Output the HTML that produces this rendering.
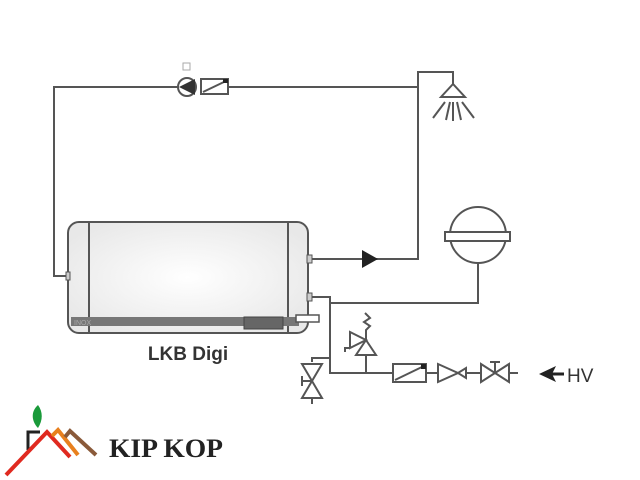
<!DOCTYPE html>
<html><head><style>
html,body{margin:0;padding:0;background:#fff;width:640px;height:480px;overflow:hidden}
</style></head><body>
<svg width="640" height="480" viewBox="0 0 640 480" xmlns="http://www.w3.org/2000/svg" font-family="Liberation Sans, sans-serif">
<defs><radialGradient id="g" cx="50%" cy="50%" r="60%"><stop offset="0" stop-color="#fff"/><stop offset="1" stop-color="#e8e8e8"/></radialGradient></defs>
<g stroke="#555" stroke-width="2" fill="none">
<polyline points="66,276 54,276 54,87 178,87"/>
<line x1="228" y1="87" x2="418" y2="87"/>
<polyline points="418,260 418,72 453,72 453,84"/>
<polyline points="312,259 418,259 418,255"/>
<polyline points="312,297 330,297 330,373 393,373"/>
<polyline points="330,303 478,303 478,263"/>
<line x1="426" y1="373" x2="518" y2="373"/>
<polyline points="330,358 312,358 312,362"/>
<line x1="366" y1="373" x2="366" y2="355"/>
<line x1="312" y1="398" x2="312" y2="404"/>
</g>
<rect x="68" y="222" width="240" height="111" rx="11" fill="url(#g)" stroke="#555" stroke-width="2"/>
<line x1="89" y1="222" x2="89" y2="333" stroke="#555" stroke-width="2"/>
<line x1="288" y1="222" x2="288" y2="333" stroke="#555" stroke-width="2"/>
<rect x="71" y="317" width="228" height="9" fill="#777"/>
<rect x="244" y="317" width="39" height="12" fill="#666" stroke="#444"/>
<rect x="296" y="315" width="23" height="7" fill="#fff" stroke="#555" stroke-width="1.5"/>
<text x="74" y="325" font-size="7" fill="#aaa">INOX</text>
<rect x="66" y="272" width="4" height="8" fill="#ccc" stroke="#555"/>
<rect x="307" y="255" width="5" height="8" fill="#ccc" stroke="#555"/>
<rect x="307" y="293" width="5" height="8" fill="#ccc" stroke="#555"/>
<text x="188" y="360" font-size="19" font-weight="bold" fill="#333" text-anchor="middle">LKB Digi</text>
<circle cx="187" cy="87" r="9" fill="#fff" stroke="#555" stroke-width="2"/>
<polygon points="179,87 195,79 195,95" fill="#333"/>
<rect x="183" y="63" width="7" height="7" fill="none" stroke="#aaa"/>
<rect x="201" y="79" width="27" height="15" fill="#fff" stroke="#555" stroke-width="2"/>
<line x1="203" y1="92" x2="226" y2="81" stroke="#555" stroke-width="2"/>
<rect x="223" y="79" width="5" height="4" fill="#222"/>
<polygon points="453,84 441,97 465,97" fill="#fff" stroke="#555" stroke-width="2"/>
<g stroke="#555" stroke-width="2"><line x1="445" y1="102" x2="433" y2="118"/><line x1="450" y1="102" x2="446" y2="120"/><line x1="453" y1="102" x2="453" y2="121"/><line x1="457" y1="102" x2="461" y2="120"/><line x1="462" y1="102" x2="474" y2="118"/></g>
<polygon points="362,250 378,259 362,268" fill="#222"/>
<circle cx="478" cy="235" r="28" fill="#fff" stroke="#555" stroke-width="2"/>
<rect x="445" y="232" width="65" height="9" fill="#fff" stroke="#555" stroke-width="2"/>
<g stroke="#555" stroke-width="2" fill="#fff">
<polygon points="366,340 356,355 376,355"/>
<polygon points="366,340 350,332 350,348"/>
<polyline points="350,348 345,348 345,352" fill="none"/>
<polyline points="366,340 366,330 370,326 364,322 370,318 365,313" fill="none"/>
</g>
<rect x="393" y="364" width="33" height="18" fill="#fff" stroke="#555" stroke-width="2"/>
<line x1="395" y1="380" x2="424" y2="366" stroke="#555" stroke-width="2"/>
<rect x="421" y="364" width="5" height="5" fill="#222"/>
<g stroke="#555" stroke-width="2" fill="#fff">
<polygon points="438,364 438,382 458,373"/>
<polygon points="458,373 466,368 466,378"/>
<polygon points="481,364 481,382 509,364 509,382"/>
<line x1="495" y1="373" x2="495" y2="362"/><line x1="490" y1="362" x2="500" y2="362"/>
<polygon points="302,364 322,364 302,398 322,398"/>
<line x1="312" y1="381" x2="302" y2="381"/><line x1="302" y1="376" x2="302" y2="386"/>
</g>
<polygon points="539,374 556,366 552,374 556,382" fill="#222"/>
<line x1="550" y1="374" x2="564" y2="374" stroke="#222" stroke-width="3"/>
<text x="567" y="382" font-size="19" fill="#333">HV</text>
<path d="M38,405 C30,412 32,422 38,428 C43,420 43,412 38,405Z" fill="#1a9a3a"/>
<polyline points="28,450 28,432 40,432" fill="none" stroke="#222" stroke-width="3"/>
<polyline points="6,475 47,432 70,457" fill="none" stroke="#e02a20" stroke-width="4"/>
<polyline points="52,436 58,430 78,455" fill="none" stroke="#e8801e" stroke-width="4"/>
<polyline points="65,437 70,431 96,455" fill="none" stroke="#8a5a3a" stroke-width="4"/>
<text x="109" y="457" font-family="Liberation Serif, serif" font-size="26" font-weight="bold" fill="#222" textLength="114" lengthAdjust="spacingAndGlyphs">KIP KOP</text>
</svg>
</body></html>
